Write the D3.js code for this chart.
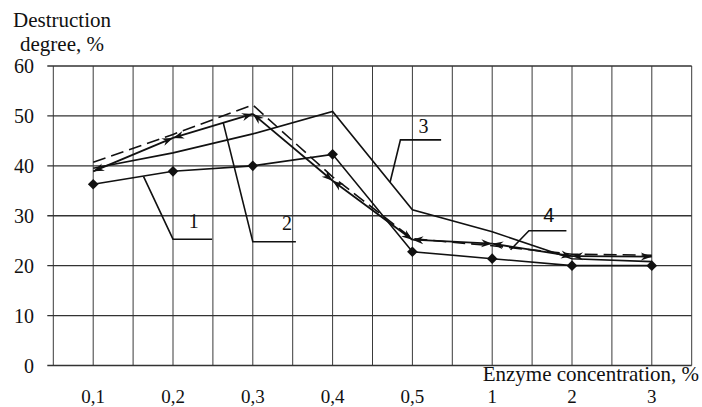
<!DOCTYPE html>
<html>
<head>
<meta charset="utf-8">
<script src="https://cdn.jsdelivr.net/npm/d3@7"></script>
<style>
  body { margin: 0; background: #fff; }
  svg { display: block; }
</style>
</head>
<body>
<div id="chart"></div>
<script>
const CATEGORIES = ["0,1", "0,2", "0,3", "0,4", "0,5", "1", "2", "3"];
const Y_TICKS = [0, 10, 20, 30, 40, 50, 60];

// destruction degree, %
const SERIES_1 = [36.3, 38.9, 40.0, 42.3, 22.8, 21.4, 20.0, 20.0]; // diamonds
const SERIES_2 = [38.9, 45.6, 50.4, 37.0, 25.2, 24.4, 21.9, 21.8]; // arrows
const SERIES_3 = [39.5, 42.6, 46.4, 50.9, 31.2, 26.8, 21.4, 20.8]; // plain
const SERIES_4 = [40.7, 46.3, 52.2, 37.8, 25.4, 24.0, 22.3, 22.1]; // dashed

// curve labels: name, leader points [category index, value], label position
const LABEL_NAMES = ["1", "2", "3", "4"];
const LABEL_LEADERS = [
  [[0.63, 37.9], [1.0, 25.3], [1.49, 25.3]],
  [[1.63, 48.6], [2.0, 24.8], [2.54, 24.8]],
  [[3.72, 36.7], [3.85, 45.2], [4.36, 45.2]],
  [[5.23, 23.2], [5.46, 27.0], [5.93, 27.0]]
];
const LABEL_POS = [[1.26, 27.6], [2.43, 27.2], [4.14, 46.6], [5.71, 28.8]];

const SERIF = "'Liberation Serif', 'Times New Roman', serif";
const SANS = "'Liberation Sans', Arial, sans-serif";

var width = 702,
    height = 407;

var svg = d3.select("#chart").append("svg")
  .attr("width", width)
  .attr("height", height);

var x = d3.scaleLinear()
  .domain([-0.5, CATEGORIES.length - 0.5])
  .range([53.3, 691.7]);
var y = d3.scaleLinear()
  .domain([0, 60])
  .range([365.5, 66]);

// text helper, inline style so nothing overrides the font
function txt(sel, size) {
  return sel
    .style("font-family", SERIF)
    .style("font-size", (size || 20) + "px")
    .style("fill", "#111");
}

// arrow head
svg.append("defs").append("marker")
  .attr("id", "arrow")
  .attr("markerUnits", "userSpaceOnUse")
  .attr("viewBox", "-12 -5 13 10")
  .attr("refX", 0)
  .attr("refY", 0)
  .attr("markerWidth", 13)
  .attr("markerHeight", 10)
  .attr("orient", "auto-start-reverse")
  .append("path")
  .attr("d", "M0,0L-11,-4L-7.5,0L-11,4Z")
  .attr("fill", "#111");

// grid
var vGrid = d3.range(-0.5, CATEGORIES.length, 0.5);
svg.append("g")
  .selectAll("line")
  .data(vGrid)
  .join("line")
    .attr("x1", d => x(d)).attr("x2", d => x(d))
    .attr("y1", y(0)).attr("y2", y(60))
    .attr("stroke", "#3a3a3a")
    .attr("stroke-width", 1);

svg.append("g")
  .selectAll("line")
  .data(Y_TICKS)
  .join("line")
    .attr("x1", x(-0.5) - 6).attr("x2", x(CATEGORIES.length - 0.5))
    .attr("y1", d => y(d)).attr("y2", d => y(d))
    .attr("stroke", "#333")
    .attr("stroke-width", 1.3);

// y tick labels
svg.append("g")
  .selectAll("text")
  .data(Y_TICKS)
  .join("text")
    .attr("x", 34)
    .attr("y", d => y(d))
    .attr("dy", "0.35em")
    .attr("text-anchor", "end")
    .call(txt)
    .text(d => d);

// x tick labels
svg.append("g")
  .selectAll("text")
  .data(CATEGORIES)
  .join("text")
    .attr("x", (d, i) => x(i))
    .attr("y", 402.5)
    .attr("text-anchor", "middle")
    .call(txt, 19)
    .text(d => d);

// axis titles
svg.append("text")
  .attr("x", 13).attr("y", 27)
  .call(txt, 21)
  .text("Destruction");
svg.append("text")
  .attr("x", 20).attr("y", 51)
  .call(txt, 21)
  .text("degree, %");
svg.append("text")
  .attr("x", 699).attr("y", 380.5)
  .attr("text-anchor", "end")
  .call(txt, 21)
  .text("Enzyme concentration, %");

var line = d3.line()
  .x((d, i) => x(i))
  .y(d => y(d));

// curve 3, plain
svg.append("path")
  .attr("d", line(SERIES_3))
  .attr("fill", "none")
  .attr("stroke", "#111")
  .attr("stroke-width", 1.6);

// curve 4, dashed
svg.append("path")
  .attr("d", line(SERIES_4))
  .attr("fill", "none")
  .attr("stroke", "#111")
  .attr("stroke-width", 1.6)
  .attr("stroke-dasharray", "13,6");

// curve 1, diamonds
svg.append("path")
  .attr("d", line(SERIES_1))
  .attr("fill", "none")
  .attr("stroke", "#111")
  .attr("stroke-width", 1.6);
svg.append("g")
  .selectAll("path")
  .data(SERIES_1)
  .join("path")
    .attr("transform", (d, i) => "translate(" + x(i) + "," + y(d) + ")")
    .attr("d", d3.symbol(d3.symbolDiamond2, 72))
    .attr("fill", "#111");

// curve 2, double headed arrows between points
var segs = d3.pairs(SERIES_2.map((d, i) => [i, d]));
svg.append("g")
  .selectAll("line")
  .data(segs)
  .join("line")
    .attr("x1", d => x(d[0][0])).attr("y1", d => y(d[0][1]))
    .attr("x2", d => x(d[1][0])).attr("y2", d => y(d[1][1]))
    .attr("stroke", "#111")
    .attr("stroke-width", 1.8)
    .attr("marker-start", "url(#arrow)")
    .attr("marker-end", "url(#arrow)");

// curve labels with leader lines
var leader = d3.line()
  .x(d => x(d[0]))
  .y(d => y(d[1]));
svg.append("g")
  .selectAll("path")
  .data(LABEL_LEADERS)
  .join("path")
    .attr("d", d => leader(d))
    .attr("fill", "none")
    .attr("stroke", "#111")
    .attr("stroke-width", 1.6);
svg.append("g")
  .selectAll("text")
  .data(LABEL_NAMES)
  .join("text")
    .attr("x", (d, i) => x(LABEL_POS[i][0]))
    .attr("y", (d, i) => y(LABEL_POS[i][1]))
    .attr("text-anchor", "middle")
    .call(txt)
    .style("font-family", d => d === "4" ? SANS : SERIF)
    .text(d => d);
</script>
</body>
</html>
